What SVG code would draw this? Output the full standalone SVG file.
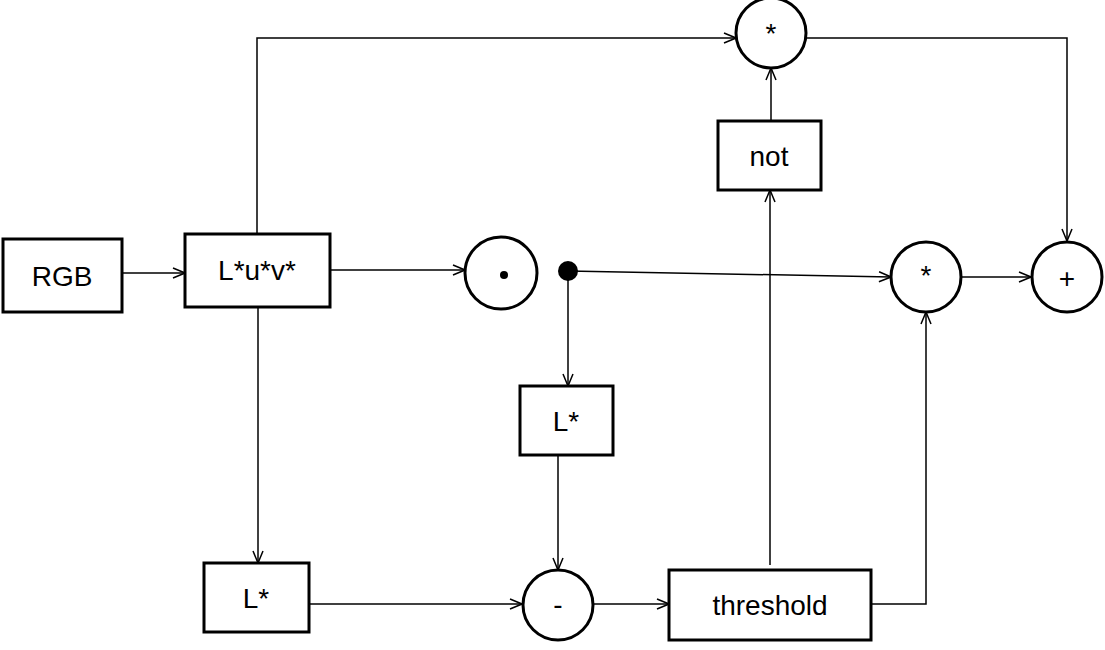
<svg xmlns="http://www.w3.org/2000/svg" width="1105" height="650" viewBox="0 0 1105 650">
<style>
.n{fill:#fff;stroke:#000;stroke-width:3}
.t{font-family:"Liberation Sans",Arial,sans-serif;font-size:28px;text-anchor:middle;dominant-baseline:central}
.c{fill:none;stroke:#000;stroke-width:1.5;marker-end:url(#a)}
</style>
<defs><marker id="a" markerWidth="14" markerHeight="12" refX="13" refY="6" orient="auto" markerUnits="userSpaceOnUse"><path d="M1,1 L13,6 L1,11" fill="none" stroke="#000" stroke-width="1.5"/></marker></defs>
<rect width="1105" height="650" fill="#fff"/>
<g id="connectors">
<path class="c" d="M122,273 H185"/>
<path class="c" d="M330,270 H465"/>
<path class="c" d="M257,234 V38 H736"/>
<path class="c" d="M806,38 H1067 V241"/>
<path class="c" d="M771,121 V68"/>
<path class="c" d="M568,271 L891,277"/>
<path class="c" d="M568,271 V386"/>
<path class="c" d="M258,307 V563"/>
<path class="c" d="M309,604 H522"/>
<path class="c" d="M558,455 V570"/>
<path class="c" d="M593,604 H669"/>
<path class="c" d="M770,565 V190"/>
<path class="c" d="M871,604 H926 V312"/>
<path class="c" d="M961,277 H1031"/>
</g>
<g id="rgb"><rect class="n" x="3" y="239" width="119" height="73"/><text class="t" x="62" y="276">RGB</text></g>
<g id="luv"><rect class="n" x="185" y="234" width="145" height="73"/><text class="t" x="257" y="270">L*u*v*</text></g>
<g id="dotop"><circle class="n" cx="501" cy="273" r="36"/><circle cx="504" cy="275" r="4"/></g>
<g id="split"><circle cx="568" cy="271" r="10"/></g>
<g id="multop"><circle class="n" cx="771" cy="33" r="35"/><text class="t" x="771" y="33">*</text></g>
<g id="not"><rect class="n" x="718" y="121" width="103" height="69"/><text class="t" x="769" y="156">not</text></g>
<g id="multmid"><circle class="n" cx="926" cy="277" r="35"/><text class="t" x="926" y="275">*</text></g>
<g id="plus"><circle class="n" cx="1067" cy="277" r="35"/><text class="t" x="1067" y="278">+</text></g>
<g id="lmid"><rect class="n" x="520" y="386" width="93" height="69"/><text class="t" x="566" y="421">L*</text></g>
<g id="lbot"><rect class="n" x="204" y="563" width="105" height="69"/><text class="t" x="256" y="598">L*</text></g>
<g id="minus"><circle class="n" cx="558" cy="605" r="35"/><text class="t" x="558" y="604">-</text></g>
<g id="threshold"><rect class="n" x="669" y="570" width="202" height="70"/><text class="t" x="770" y="605">threshold</text></g>
</svg>
